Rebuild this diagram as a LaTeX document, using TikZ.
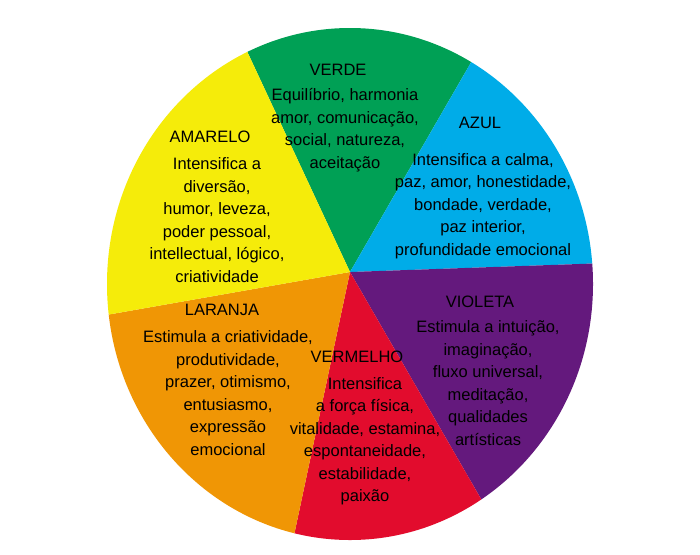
\documentclass[tikz,border=0pt]{standalone}
\usepackage{fontspec}
\setmainfont{Liberation Sans}
\begin{document}
\begin{tikzpicture}[x=1pt,y=-1pt,
  lbl/.style={font=\fontsize{16.5}{22.5}\selectfont,align=center,inner sep=0pt,text=black}]
\useasboundingbox (0,0) rectangle (700,554);
\fill[white] (0,0) rectangle (700,554);
\definecolor{cg}{RGB}{0,160,85}
\definecolor{cb}{RGB}{0,172,232}
\definecolor{cv}{RGB}{100,25,125}
\definecolor{cr}{RGB}{226,12,45}
\definecolor{co}{RGB}{240,150,5}
\definecolor{cy}{RGB}{245,236,10}
\coordinate (c) at (350,272);
\def\R{400}
\begin{scope}
\clip (350,284) ellipse[x radius=243,y radius=256];
\fill[cg] (c) -- ++(-60:\R) arc[start angle=-60,end angle=-115,radius=\R] -- cycle;
\fill[cb] (c) -- ++(-2:\R) arc[start angle=-2,end angle=-60,radius=\R] -- cycle;
\fill[cv] (c) -- ++(60:\R) arc[start angle=60,end angle=-2,radius=\R] -- cycle;
\fill[cr] (c) -- ++(102:\R) arc[start angle=102,end angle=60,radius=\R] -- cycle;
\fill[co] (c) -- ++(170:\R) arc[start angle=170,end angle=102,radius=\R] -- cycle;
\fill[cy] (c) -- ++(245:\R) arc[start angle=245,end angle=170,radius=\R] -- cycle;
\end{scope}
\node[lbl] (t1) at (338,70) {VERDE};
\node[lbl] (b1) at (345,130) {Equilíbrio, harmonia\\amor, comunicação,\\social, natureza,\\aceitação};
\node[lbl] (t2) at (480,123) {AZUL};
\node[lbl] (b2) at (483,206) {Intensifica a calma,\\paz, amor, honestidade,\\bondade, verdade,\\paz interior,\\profundidade emocional};
\node[lbl] (t3) at (210,137) {AMARELO};
\node[lbl] (b3) at (217,220) {Intensifica a\\diversão,\\humor, leveza,\\poder pessoal,\\intellectual, lógico,\\criatividade};
\node[lbl] (t4) at (222,310) {LARANJA};
\node[lbl] (b4) at (228,393) {Estimula a criatividade,\\produtividade,\\prazer, otimismo,\\entusiasmo,\\expressão\\emocional};
\node[lbl] (t5) at (357,357) {VERMELHO};
\node[lbl] (b5) at (365,441) {Intensifica\\a força física,\\vitalidade, estamina,\\espontaneidade,\\estabilidade,\\paixão};
\node[lbl] (t6) at (480,302) {VIOLETA};
\node[lbl] (b6) at (488,383) {Estimula a intuição,\\imaginação,\\fluxo universal,\\meditação,\\qualidades\\artísticas};
\end{tikzpicture}
\end{document}
